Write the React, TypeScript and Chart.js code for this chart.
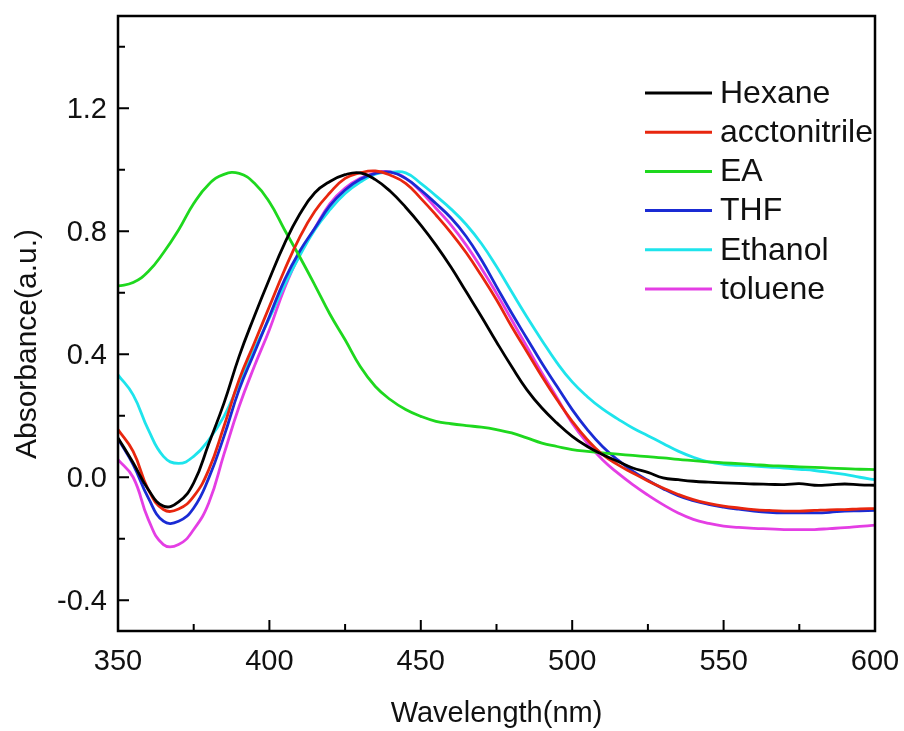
import { useEffect, useRef } from 'react';
import { Chart, registerables } from 'chart.js';

Chart.register(...registerables);

const wavelengths = [
  350, 355, 360, 365, 370, 375, 380, 385, 390, 395, 400, 405, 410, 415, 420, 425, 430,
  435, 440, 445, 450, 455, 460, 465, 470, 475, 480, 485, 490, 495, 500, 505, 510, 515,
  520, 525, 530, 535, 540, 545, 550, 555, 560, 565, 570, 575, 580, 585, 590, 595, 600,
];

const hexane = [
  0.128, 0.047, -0.04, -0.094, -0.08, -0.018, 0.11, 0.241, 0.393, 0.523, 0.645, 0.76, 0.855,
  0.925, 0.962, 0.984, 0.99, 0.968, 0.929, 0.878, 0.82, 0.755, 0.683, 0.603, 0.523, 0.44,
  0.36, 0.285, 0.225, 0.176, 0.133, 0.1, 0.074, 0.052, 0.03, 0.016, -0.002, -0.008, -0.013,
  -0.016, -0.018, -0.02, -0.022, -0.023, -0.024, -0.021, -0.026, -0.025, -0.022, -0.025, -0.026,
];

const acctonitrile = [
  0.155, 0.084, -0.04, -0.105, -0.103, -0.062, 0.025, 0.166, 0.317, 0.436, 0.555, 0.674, 0.78,
  0.865, 0.925, 0.972, 0.99, 0.996, 0.982, 0.956, 0.907, 0.853, 0.795, 0.73, 0.656, 0.577,
  0.49, 0.409, 0.328, 0.252, 0.182, 0.122, 0.074, 0.041, 0.014, -0.012, -0.035, -0.056, -0.073,
  -0.085, -0.094, -0.1, -0.105, -0.108, -0.11, -0.11, -0.108, -0.106, -0.105, -0.103, -0.102,
];

const ea = [
  0.622, 0.633, 0.669, 0.73, 0.804, 0.89, 0.953, 0.985, 0.988, 0.957, 0.895, 0.805, 0.717,
  0.625, 0.53, 0.447, 0.36, 0.295, 0.252, 0.22, 0.198, 0.182, 0.174, 0.168, 0.163, 0.155,
  0.144, 0.128, 0.111, 0.1, 0.09, 0.084, 0.079, 0.075, 0.071, 0.067, 0.063, 0.058, 0.054,
  0.05, 0.047, 0.044, 0.041, 0.038, 0.036, 0.034, 0.032, 0.03, 0.028, 0.026, 0.025,
];

const thf = [
  0.125, 0.041, -0.067, -0.143, -0.143, -0.1, -0.002, 0.133, 0.285, 0.404, 0.523, 0.642, 0.735,
  0.81, 0.883, 0.934, 0.969, 0.988, 0.992, 0.972, 0.934, 0.89, 0.843, 0.783, 0.707, 0.62,
  0.534, 0.452, 0.371, 0.295, 0.22, 0.155, 0.1, 0.057, 0.02, -0.01, -0.037, -0.06, -0.076,
  -0.088, -0.097, -0.104, -0.11, -0.114, -0.116, -0.116, -0.116, -0.114, -0.11, -0.109, -0.108,
];

const ethanol = [
  0.333, 0.268, 0.155, 0.068, 0.045, 0.068, 0.122, 0.198, 0.306, 0.415, 0.517, 0.625, 0.72,
  0.805, 0.87, 0.923, 0.96, 0.986, 0.992, 0.99, 0.956, 0.915, 0.872, 0.822, 0.76, 0.685,
  0.603, 0.522, 0.445, 0.372, 0.31, 0.262, 0.222, 0.19, 0.16, 0.135, 0.11, 0.085, 0.065,
  0.05, 0.042, 0.039, 0.036, 0.033, 0.03, 0.026, 0.022, 0.016, 0.009, 0.0, -0.008,
];

const toluene = [
  0.057, 0.0, -0.137, -0.219, -0.219, -0.17, -0.083, 0.075, 0.23, 0.36, 0.48, 0.615, 0.725,
  0.81, 0.89, 0.94, 0.972, 0.99, 0.993, 0.972, 0.929, 0.875, 0.82, 0.755, 0.68, 0.598,
  0.512, 0.425, 0.339, 0.258, 0.176, 0.111, 0.057, 0.014, -0.024, -0.058, -0.089, -0.116, -0.137,
  -0.15, -0.159, -0.163, -0.166, -0.168, -0.17, -0.17, -0.17, -0.167, -0.164, -0.16, -0.156,
];

const seriesNames = ['Hexane', 'acctonitrile', 'EA', 'THF', 'Ethanol', 'toluene'];
const seriesColors = ['#000000', '#e8260e', '#1ed81e', '#1a2bd4', '#1ee4ec', '#e43ee4'];
const seriesValues = [hexane, acctonitrile, ea, thf, ethanol, toluene];

const xMajorTicks = [350, 400, 450, 500, 550, 600];
const xMinorTicks = [375, 425, 475, 525, 575];
const yMajorTicks = [-0.4, 0.0, 0.4, 0.8, 1.2];
const yMinorTicks = [-0.2, 0.2, 0.6, 1.0, 1.4];

const FONT = '"Liberation Sans", Arial, sans-serif';

// frame, inward ticks, tick labels, axis titles and the legend inside the plot
const decorations = {
  id: 'decorations',
  afterDatasetsDraw(chart: any) {
    const { ctx, chartArea: a, scales } = chart;
    const x = scales.x;
    const y = scales.y;
    ctx.save();
    ctx.strokeStyle = '#000';
    ctx.lineCap = 'butt';

    ctx.lineWidth = 2;
    ctx.beginPath();
    xMajorTicks.forEach((v) => {
      const px = x.getPixelForValue(v);
      ctx.moveTo(px, a.bottom);
      ctx.lineTo(px, a.bottom - 11);
    });
    xMinorTicks.forEach((v) => {
      const px = x.getPixelForValue(v);
      ctx.moveTo(px, a.bottom);
      ctx.lineTo(px, a.bottom - 7);
    });
    yMajorTicks.forEach((v) => {
      const py = y.getPixelForValue(v);
      ctx.moveTo(a.left, py);
      ctx.lineTo(a.left + 11, py);
    });
    yMinorTicks.forEach((v) => {
      const py = y.getPixelForValue(v);
      ctx.moveTo(a.left, py);
      ctx.lineTo(a.left + 7, py);
    });
    ctx.stroke();

    ctx.lineWidth = 2.5;
    ctx.strokeRect(a.left, a.top, a.right - a.left, a.bottom - a.top);

    ctx.fillStyle = '#111';
    ctx.font = `29px ${FONT}`;
    ctx.textBaseline = 'alphabetic';
    ctx.textAlign = 'center';
    xMajorTicks.forEach((v) => {
      ctx.fillText(String(v), x.getPixelForValue(v), a.bottom + 39);
    });
    ctx.textAlign = 'right';
    yMajorTicks.forEach((v) => {
      ctx.fillText(v.toFixed(1), a.left - 11, y.getPixelForValue(v) + 10);
    });

    ctx.textAlign = 'center';
    ctx.fillText('Wavelength(nm)', (a.left + a.right) / 2, 722);

    ctx.save();
    ctx.translate(36, 344);
    ctx.rotate(-Math.PI / 2);
    ctx.font = `30px ${FONT}`;
    ctx.fillText('Absorbance(a.u.)', 0, 0);
    ctx.restore();

    ctx.font = `32px ${FONT}`;
    ctx.textAlign = 'left';
    ctx.textBaseline = 'middle';
    const lx = a.right - 230;
    seriesNames.forEach((name, i) => {
      const ly = a.top + 77 + i * 39.2;
      ctx.strokeStyle = seriesColors[i];
      ctx.lineWidth = 3;
      ctx.beginPath();
      ctx.moveTo(lx, ly);
      ctx.lineTo(lx + 67, ly);
      ctx.stroke();
      ctx.fillStyle = '#111';
      ctx.fillText(name, lx + 75, ly + 1);
    });
    ctx.restore();
  },
};

export default function App() {
  const canvasRef = useRef<HTMLCanvasElement>(null);
  const chartRef = useRef<Chart | null>(null);

  useEffect(() => {
    document.body.style.margin = '0';
    if (!canvasRef.current) return;
    if (chartRef.current) chartRef.current.destroy();

    chartRef.current = new Chart(canvasRef.current, {
      type: 'line',
      data: {
        datasets: seriesValues.map((values, i) => ({
          label: seriesNames[i],
          data: values.map((v, j) => ({ x: wavelengths[j], y: v })),
          borderColor: seriesColors[i],
          backgroundColor: seriesColors[i],
          borderWidth: 2.8,
          pointRadius: 0,
          tension: 0.45,
          fill: false,
        })),
      },
      options: {
        responsive: false,
        animation: false,
        devicePixelRatio: 1,
        layout: { padding: { top: 16, right: 29, left: 0, bottom: 0 } },
        plugins: {
          legend: { display: false },
          tooltip: { enabled: false },
        },
        scales: {
          x: {
            type: 'linear',
            min: 350,
            max: 600,
            afterBuildTicks: (s: any) => {
              s.ticks = xMajorTicks.map((v) => ({ value: v }));
            },
            afterFit: (s: any) => {
              s.height = 100;
            },
            grid: { display: false },
            border: { display: false },
            ticks: { display: false },
          },
          y: {
            type: 'linear',
            min: -0.5,
            max: 1.5,
            afterBuildTicks: (s: any) => {
              s.ticks = yMajorTicks.map((v) => ({ value: v }));
            },
            afterFit: (s: any) => {
              s.width = 118;
            },
            grid: { display: false },
            border: { display: false },
            ticks: { display: false },
          },
        },
      },
      plugins: [decorations],
    });

    return () => {
      if (chartRef.current) {
        chartRef.current.destroy();
        chartRef.current = null;
      }
    };
  }, []);

  return (
    <div style={{ width: 904, height: 731, background: '#fff' }}>
      <canvas ref={canvasRef} width={904} height={731} />
    </div>
  );
}
